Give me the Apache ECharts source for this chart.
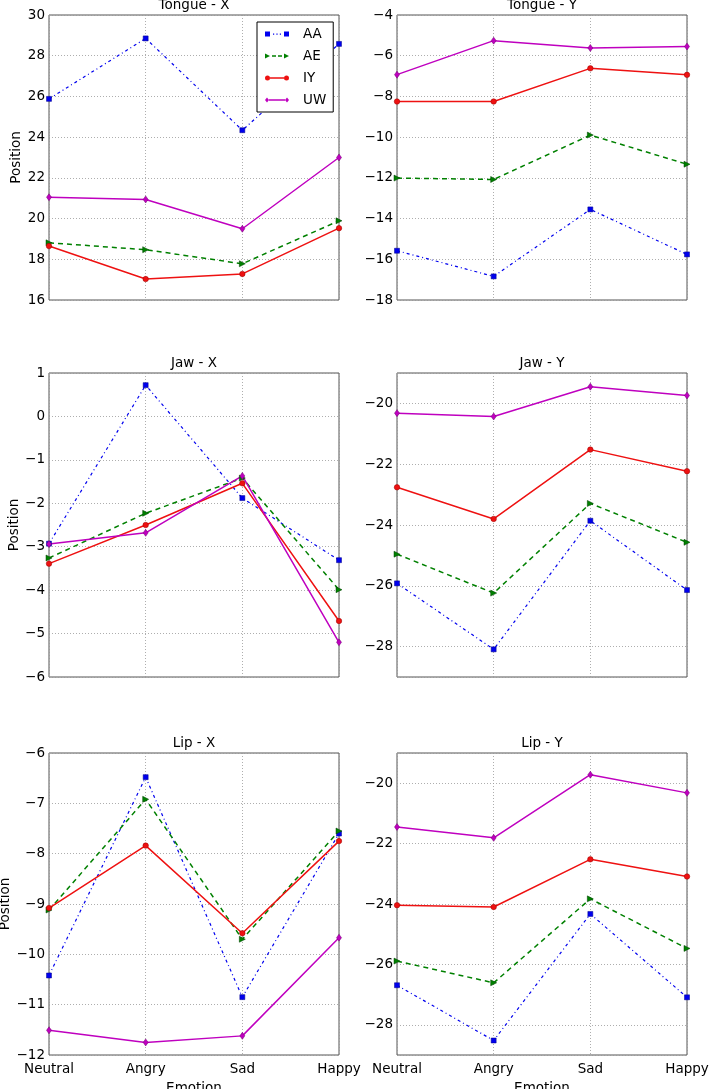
<!DOCTYPE html>
<html><head><meta charset="utf-8">
<script src="https://cdn.jsdelivr.net/npm/echarts@6/dist/echarts.min.js"></script>
<style>html,body{margin:0;padding:0;background:#fff}#c{width:709px;height:1089px}</style>
</head><body><div id="c"></div>
<script>
// ---- data ----
const categories = ['Neutral', 'Angry', 'Sad', 'Happy'];
const seriesNames = ['AA', 'AE', 'IY', 'UW'];
const panelTitles = ['Tongue - X', 'Tongue - Y', 'Jaw - X', 'Jaw - Y', 'Lip - X', 'Lip - Y'];
// each panel: rows in order AA, AE, IY, UW
const tongueX = [[25.88, 28.85, 24.34, 28.58], [18.81, 18.47, 17.78, 19.89], [18.65, 17.03, 17.28, 19.53], [21.05, 20.94, 19.50, 23.00]];
const tongueY = [[-15.58, -16.84, -13.55, -15.76], [-12.01, -12.08, -9.90, -11.33], [-8.25, -8.25, -6.62, -6.94], [-6.93, -5.26, -5.62, -5.55]];
const jawX = [[-2.93, 0.72, -1.88, -3.31], [-3.26, -2.23, -1.42, -3.99], [-3.39, -2.50, -1.54, -4.71], [-2.94, -2.68, -1.37, -5.20]];
const jawY = [[-25.92, -28.09, -23.86, -26.14], [-24.96, -26.24, -23.29, -24.57], [-22.76, -23.80, -21.52, -22.23], [-20.32, -20.43, -19.45, -19.74]];
const lipX = [[-10.42, -6.48, -10.85, -7.60], [-9.12, -6.92, -9.70, -7.55], [-9.08, -7.84, -9.58, -7.75], [-11.51, -11.75, -11.62, -9.67]];
const lipY = [[-26.69, -28.52, -24.33, -27.09], [-25.89, -26.61, -23.83, -25.47], [-24.04, -24.10, -22.52, -23.09], [-21.45, -21.81, -19.72, -20.32]];
const panelData = [tongueX, tongueY, jawX, jawY, lipX, lipY];
// y axis ranges and tick steps
const yMin = [16, -18, -6, -29, -12, -29];
const yMax = [30, -4, 1, -19, -6, -19];
const yStep = [2, 2, 1, 2, 1, 2];

// ---- layout / style ----
const FONT = 'DejaVu Sans';
const FS = 13.5;
const grids = [
  {left: 49, top: 15, width: 290, height: 285},
  {left: 397, top: 15, width: 290, height: 285},
  {left: 49, top: 373, width: 290, height: 304},
  {left: 397, top: 373, width: 290, height: 304},
  {left: 49, top: 753, width: 290, height: 302},
  {left: 397, top: 753, width: 290, height: 302}
];
const styles = [
  {color: '#0000ee', symbol: 'rect', symbolSize: 5, rotate: 0, type: [3, 3, 1, 3], width: 1.2},
  {color: '#008000', symbol: 'triangle', symbolSize: 6, rotate: -90, type: [5, 4], width: 1.5},
  {color: '#ee1111', symbol: 'circle', symbolSize: 5.5, rotate: 0, type: 'solid', width: 1.5},
  {color: '#bf00bf', symbol: 'diamond', symbolSize: [5, 7], rotate: 0, type: 'solid', width: 1.5}
];
const border = ['#00008a', '#004000', '#990000', '#700070'];
// legend icons: marker at both ends with the line pattern between (24 x 5 box)
const legendIcons = [
  'path://M0 0h5v5h-5z M19 0h5v5h-5z M8 2h1.2v1.2h-1.2z M11.4 2h1.2v1.2h-1.2z M14.8 2h1.2v1.2h-1.2z',
  'path://M0 0L5 2.5L0 5z M19 0L24 2.5L19 5z M7 1.8h4v1.4h-4z M13 1.8h4v1.4h-4z',
  'path://M0 2.5a2.5 2.5 0 1 0 5 0a2.5 2.5 0 1 0 -5 0z M19 2.5a2.5 2.5 0 1 0 5 0a2.5 2.5 0 1 0 -5 0z M5 1.8h14v1.4h-14z',
  'path://M0 2.5L2 0L4 2.5L2 5z M20 2.5L22 0L24 2.5L22 5z M4 1.8h16v1.4h-16z'
];
const fmt = v => String(v).replace('-', '\u2212');

const option = {
  animation: false,
  backgroundColor: '#fff',
  textStyle: {fontFamily: FONT},
  title: panelTitles.map((t, i) => ({
    text: t, left: grids[i].left + grids[i].width / 2, top: grids[i].top - 17,
    textAlign: 'center', padding: 0,
    textStyle: {fontSize: FS, fontWeight: 'normal', fontFamily: FONT, color: '#000'}
  })),
  legend: {
    data: seriesNames.map((n, s) => ({name: n, icon: legendIcons[s], itemStyle: {color: styles[s].color, borderWidth: 0}})),
    orient: 'vertical', left: 257, top: 22,
    padding: [5, 7, 5, 8], itemWidth: 24, itemHeight: 5, itemGap: 8,
    borderColor: '#000', borderWidth: 1, backgroundColor: '#fff', borderRadius: 0,
    textStyle: {fontSize: FS, fontFamily: FONT, color: '#000', padding: [0, 0, 0, 9]},
    z: 10
  },
  grid: grids.map(g => Object.assign({show: true, borderColor: '#555', borderWidth: 1, backgroundColor: 'transparent', outerBoundsMode: 'none', containLabel: false}, g)),
  xAxis: grids.map((g, i) => ({
    type: 'category', gridIndex: i, data: categories, boundaryGap: false,
    axisLine: {show: false}, axisTick: {show: false},
    axisLabel: {show: i >= 4, fontSize: FS, fontFamily: FONT, color: '#000', margin: 7},
    splitLine: {show: true, lineStyle: {type: [1, 2], color: '#999', width: 0.8}},
    name: i >= 4 ? 'Emotion' : '', nameLocation: 'middle', nameGap: 26,
    nameTextStyle: {fontSize: FS, fontFamily: FONT, color: '#000'}
  })),
  yAxis: grids.map((g, i) => {
    const aligned = yMin[i] % yStep[i] === 0;
    const ax = {
      type: 'value', gridIndex: i, min: yMin[i], max: yMax[i],
      axisLine: {show: false}, axisTick: {show: false},
      axisLabel: {fontSize: FS, fontFamily: FONT, color: '#000', margin: 4, formatter: fmt},
      splitLine: {show: true, lineStyle: {type: [1, 2], color: '#999', width: 0.8}},
      name: i % 2 === 0 ? 'Position' : '', nameLocation: 'middle', nameGap: 24,
      nameTextStyle: {fontSize: FS, fontFamily: FONT, color: '#000'}
    };
    if (aligned) { ax.interval = yStep[i]; }
    else {
      ax.minInterval = yStep[i]; ax.maxInterval = yStep[i]; ax.splitNumber = 5;
      ax.axisLabel.showMinLabel = false; ax.axisLabel.showMaxLabel = false;
    }
    return ax;
  }),
  series: []
};
panelData.forEach((panel, p) => {
  panel.forEach((vals, s) => {
    const st = styles[s];
    option.series.push({
      type: 'line', name: seriesNames[s], xAxisIndex: p, yAxisIndex: p, data: vals,
      symbol: st.symbol, symbolSize: st.symbolSize, symbolRotate: st.rotate, showAllSymbol: true,
      lineStyle: {color: st.color, width: st.width, type: st.type},
      itemStyle: {color: st.color, borderColor: border[s], borderWidth: 0.5},
      emphasis: {disabled: true}, clip: false
    });
  });
});
const chart = echarts.init(document.getElementById('c'), null, {renderer: 'canvas'});
chart.setOption(option);
</script>
</body></html>
